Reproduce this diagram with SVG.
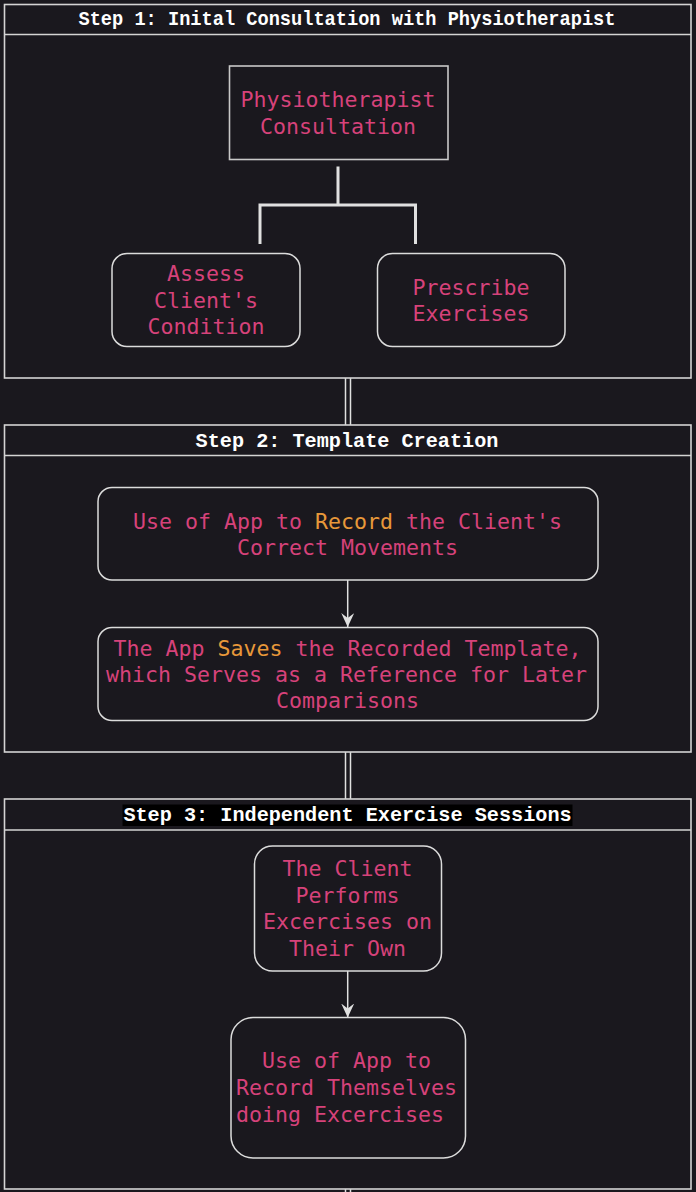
<svg xmlns="http://www.w3.org/2000/svg" width="696" height="1192" viewBox="0 0 696 1192">
<style>
.bg{fill:#1a181e}
.sec{fill:#1a181e;stroke:#d4d4d4;stroke-width:1.6}
.hl{stroke:#d4d4d4;stroke-width:1.6}
.hdr{font-family:"Liberation Mono",monospace;font-weight:bold;font-size:20.2px;fill:#ffffff;text-anchor:middle}
.node{fill:#1a181e;stroke:#dcdcdc;stroke-width:1.5}
.t{font-family:"DejaVu Sans Mono","Liberation Mono",monospace;font-size:21.6px;fill:#d6427a;text-anchor:middle}
.o{fill:#e8983a}
.con{stroke:#e0e0e0;fill:none}
</style>
<defs>
<marker id="arr" viewBox="0 0 14 13" refX="14" refY="6.5" markerWidth="14" markerHeight="13" markerUnits="userSpaceOnUse" orient="auto">
<path d="M0,0 L14,6.5 L0,13 L5,6.5 Z" fill="#e0e0e0"/>
</marker>
</defs>
<rect class="bg" x="0" y="0" width="696" height="1192"/>

<g id="connectors">
<line class="con" x1="345.5" y1="378" x2="345.5" y2="425" stroke-width="1.5"/>
<line class="con" x1="350.5" y1="378" x2="350.5" y2="425" stroke-width="1.5"/>
<line class="con" x1="345.5" y1="752" x2="345.5" y2="799" stroke-width="1.5"/>
<line class="con" x1="350.5" y1="752" x2="350.5" y2="799" stroke-width="1.5"/>
<line class="con" x1="345.5" y1="1189" x2="345.5" y2="1192" stroke-width="1.5"/>
<line class="con" x1="350.5" y1="1189" x2="350.5" y2="1192" stroke-width="1.5"/>
</g>

<g id="step1">
<rect class="sec" x="4.5" y="4.5" width="686.5" height="373.5"/>
<line class="hl" x1="4.5" y1="34.5" x2="691" y2="34.5"/>
<text class="hdr" x="78.5" y="25" style="text-anchor:start" textLength="537" lengthAdjust="spacingAndGlyphs">Step 1: Inital Consultation with Physiotherapist</text>
</g>
<g id="step2">
<rect class="sec" x="4.5" y="425" width="686.5" height="327"/>
<line class="hl" x1="4.5" y1="455.5" x2="691" y2="455.5"/>
<text class="hdr" x="347" y="447">Step 2: Template Creation</text>
</g>
<g id="step3">
<rect class="sec" x="4.5" y="799" width="686.5" height="390"/>
<line class="hl" x1="4.5" y1="830" x2="691" y2="830"/>
<rect x="122.5" y="804.5" width="450" height="21.5" fill="#000000"/>
<text class="hdr" x="347.5" y="821">Step 3: Independent Exercise Sessions</text>
</g>

<g id="connectors-inner">
<path class="con" d="M338,166.5 V205 M260,244 V205 H415.5 V244" stroke-width="3"/>
<line class="con" x1="347.7" y1="580" x2="347.7" y2="627" stroke-width="1.5" marker-end="url(#arr)"/>
<line class="con" x1="347.7" y1="971" x2="347.7" y2="1017.5" stroke-width="1.5" marker-end="url(#arr)"/>
</g>

<g id="physio-consultation">
<rect x="229.5" y="66" width="218.5" height="93.5" fill="#1a181e" stroke="#c8c8c8" stroke-width="1.6"/>
<text class="t" x="338" y="106.5">Physiotherapist</text>
<text class="t" x="338" y="133.5">Consultation</text>
</g>
<g id="assess">
<rect class="node" x="112" y="253.5" width="188" height="93" rx="15"/>
<text class="t" x="206" y="281">Assess</text>
<text class="t" x="206" y="307.5">Client's</text>
<text class="t" x="206" y="333.5">Condition</text>
</g>
<g id="prescribe">
<rect class="node" x="377.5" y="253.5" width="187.5" height="93" rx="15"/>
<text class="t" x="471" y="295">Prescribe</text>
<text class="t" x="471" y="321">Exercises</text>
</g>
<g id="record">
<rect class="node" x="98" y="487.5" width="500" height="92.5" rx="14"/>
<text class="t" x="347.5" y="529">Use of App to <tspan class="o">Record</tspan> the Client's</text>
<text class="t" x="347.5" y="555">Correct Movements</text>
</g>
<g id="saves">
<rect class="node" x="98" y="627.5" width="500" height="93" rx="14"/>
<text class="t" x="347.5" y="656">The App <tspan class="o">Saves</tspan> the Recorded Template,</text>
<text class="t" x="346.5" y="682">which Serves as a Reference for Later</text>
<text class="t" x="347.5" y="708">Comparisons</text>
</g>
<g id="client-performs">
<rect class="node" x="254.5" y="846" width="187" height="125" rx="18"/>
<text class="t" x="347.5" y="876">The Client</text>
<text class="t" x="347.5" y="902.5">Performs</text>
<text class="t" x="347.5" y="929">Excercises on</text>
<text class="t" x="347.5" y="956">Their Own</text>
</g>
<g id="record-themselves">
<rect class="node" x="231" y="1017.5" width="234.5" height="140.5" rx="22"/>
<text class="t" x="346.5" y="1068">Use of App to</text>
<text class="t" x="346.5" y="1095">Record Themselves</text>
<text class="t" x="236" y="1121.5" style="text-anchor:start">doing Excercises</text>
</g>
</svg>
